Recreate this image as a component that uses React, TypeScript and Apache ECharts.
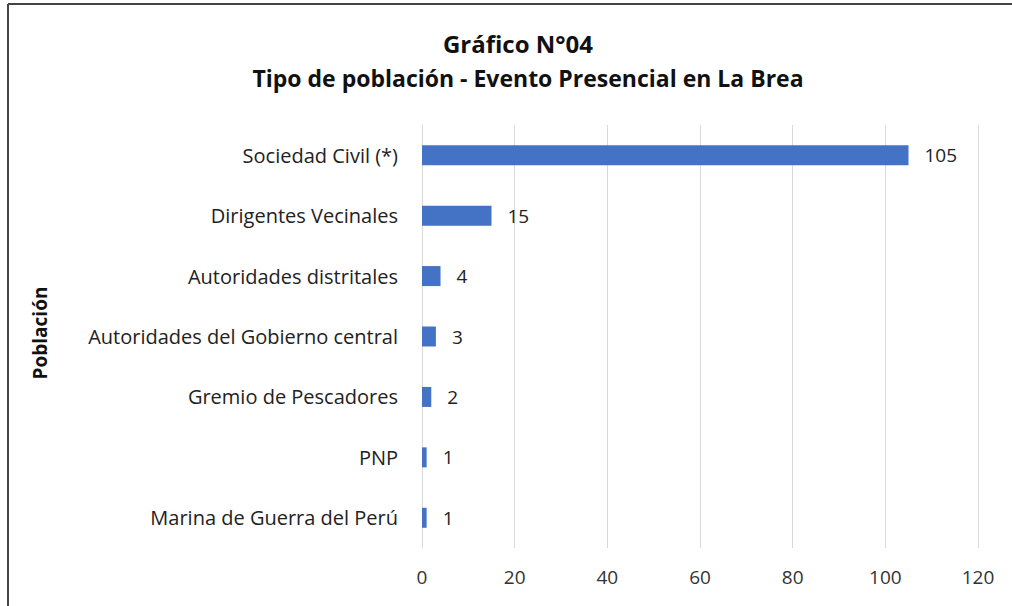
import React, { useEffect, useRef } from "react";
import * as echarts from "echarts";

const categories = [
  "Sociedad Civil (*)",
  "Dirigentes Vecinales",
  "Autoridades distritales",
  "Autoridades del Gobierno central",
  "Gremio de Pescadores",
  "PNP",
  "Marina de Guerra del Perú",
];
const values = [105, 15, 4, 3, 2, 1, 1];
const titleLine1 = "Gráfico N°04";
const titleLine2 = "Tipo de población - Evento Presencial en La Brea";
const yAxisName = "Población";

export default function App() {
  const ref = useRef<HTMLDivElement>(null);
  useEffect(() => {
    const chart = echarts.init(ref.current!, null, { renderer: "svg" });
    const font = "'Open Sans', 'Noto Sans', sans-serif";
    chart.setOption({
      animation: false,
      backgroundColor: "#fff",
      graphic: [
        { type: "line", shape: { x1: 8, y1: 4, x2: 8, y2: 606 }, style: { stroke: "#444", lineWidth: 2 } },
        { type: "line", shape: { x1: 8, y1: 4, x2: 1012, y2: 4 }, style: { stroke: "#444", lineWidth: 2 } },
        {
          type: "text",
          x: 518,
          y: 43,
          style: {
            text: titleLine1,
            fontFamily: font,
            fontSize: 24,
            fontWeight: "bold",
            fill: "#111",
            align: "center",
            verticalAlign: "middle",
          },
        },
        {
          type: "text",
          x: 528,
          y: 78,
          style: {
            text: titleLine2,
            fontFamily: font,
            fontSize: 23,
            fontWeight: "bold",
            fill: "#111",
            align: "center",
            verticalAlign: "middle",
          },
        },
        {
          type: "text",
          x: 40,
          y: 333,
          rotation: Math.PI / 2,
          style: {
            text: yAxisName,
            fontFamily: font,
            fontSize: 19,
            fontWeight: "bold",
            fill: "#111",
            align: "center",
            verticalAlign: "middle",
          },
        },
      ],
      grid: { left: 422, right: 34, top: 125, bottom: 58 },
      xAxis: {
        type: "value",
        min: 0,
        max: 120,
        interval: 20,
        axisLine: { show: false },
        axisTick: { show: false },
        splitLine: { show: true, lineStyle: { color: "#d9d9d9", width: 1 } },
        axisLabel: { fontFamily: font, fontSize: 19, color: "#333", margin: 19 },
      },
      yAxis: {
        type: "category",
        data: categories,
        inverse: true,
        axisLine: { show: false },
        axisTick: { show: false },
        axisLabel: { fontFamily: font, fontSize: 20, color: "#222", margin: 24 },
      },
      series: [
        {
          type: "bar",
          data: values,
          barWidth: 20,
          itemStyle: { color: "#4472C4" },
          label: {
            show: true,
            position: "right",
            distance: 16,
            fontFamily: font,
            fontSize: 19,
            color: "#222",
          },
        },
      ],
    });
    return () => chart.dispose();
  }, []);
  return (
    <div
      ref={ref}
      style={{ position: "fixed", left: 0, top: 0, width: 1012, height: 606 }}
    />
  );
}
